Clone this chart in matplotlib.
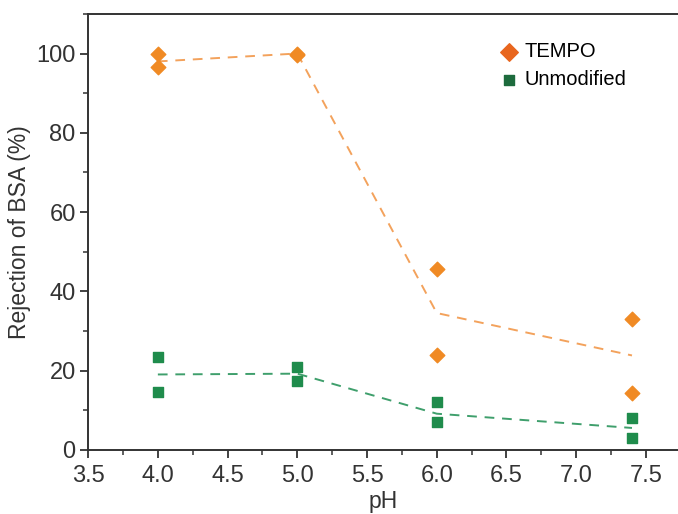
import numpy as np
import matplotlib.pyplot as plt
from matplotlib.ticker import MultipleLocator

plt.rcParams['font.family'] = ['Liberation Sans', 'DejaVu Sans']

# measured points (two replicates per pH)
ph = [4.0, 4.0, 5.0, 5.0, 6.0, 6.0, 7.4, 7.4]
tempo = [100.0, 96.7, 100.0, 99.6, 45.6, 23.9, 33.1, 14.3]
unmod = [23.3, 14.7, 21.0, 17.3, 12.0, 6.9, 7.9, 3.0]

# trend lines (dashed)
ph_line = [4.0, 5.0, 6.0, 7.4]
tempo_line = [98.0, 100.0, 34.5, 23.8]
unmod_line = [19.0, 19.2, 9.1, 5.5]

fig = plt.figure(figsize=(6.78, 5.14), dpi=100)
ax = fig.add_axes([0.13, 0.125, 0.87, 0.848])

ax.plot(ph_line, tempo_line, '--', color='#f3a25c', lw=1.4, dashes=(5, 4))
ax.plot(ph_line, unmod_line, '--', color='#3f9f6c', lw=1.4, dashes=(5, 4))
ax.scatter(ph, tempo, marker='D', s=55, color='#f08a24', zorder=3)
ax.scatter(ph, unmod, marker='s', s=55, color='#1f8c4c', zorder=3)

# legend handles
ax.scatter([], [], marker='D', s=80, color='#e8661e', label='TEMPO')
ax.scatter([], [], marker='s', s=60, color='#1d6b3d', label='Unmodified')
ax.legend(loc='upper left', bbox_to_anchor=(0.695, 0.935), frameon=False,
          fontsize=14.5, handletextpad=0.2, handlelength=1.1,
          labelspacing=0.45, borderaxespad=0, borderpad=0)

ax.set_xlim(3.5, 7.73)
ax.set_ylim(0, 110)
ax.xaxis.set_major_locator(MultipleLocator(0.5))
ax.xaxis.set_minor_locator(MultipleLocator(0.25))
ax.yaxis.set_minor_locator(MultipleLocator(10))
ax.set_yticks([0, 20, 40, 60, 80, 100])
ax.tick_params(which='major', direction='out', length=6, width=1.3, labelsize=17,
               colors='#333333', pad=3)
ax.tick_params(axis='x', which='major', pad=5)
ax.tick_params(which='minor', direction='out', length=3.5, width=1.1, colors='#333333')

for s in ['left', 'bottom', 'top']:
    ax.spines[s].set_linewidth(1.4)
    ax.spines[s].set_color('#333333')
ax.spines['right'].set_visible(False)

ax.set_xlabel('pH', fontsize=16.5, color='#333333', labelpad=2)
ax.set_ylabel('Rejection of BSA (%)', fontsize=16.5, color='#333333', labelpad=4)

fig.savefig('out.png', dpi=100)
